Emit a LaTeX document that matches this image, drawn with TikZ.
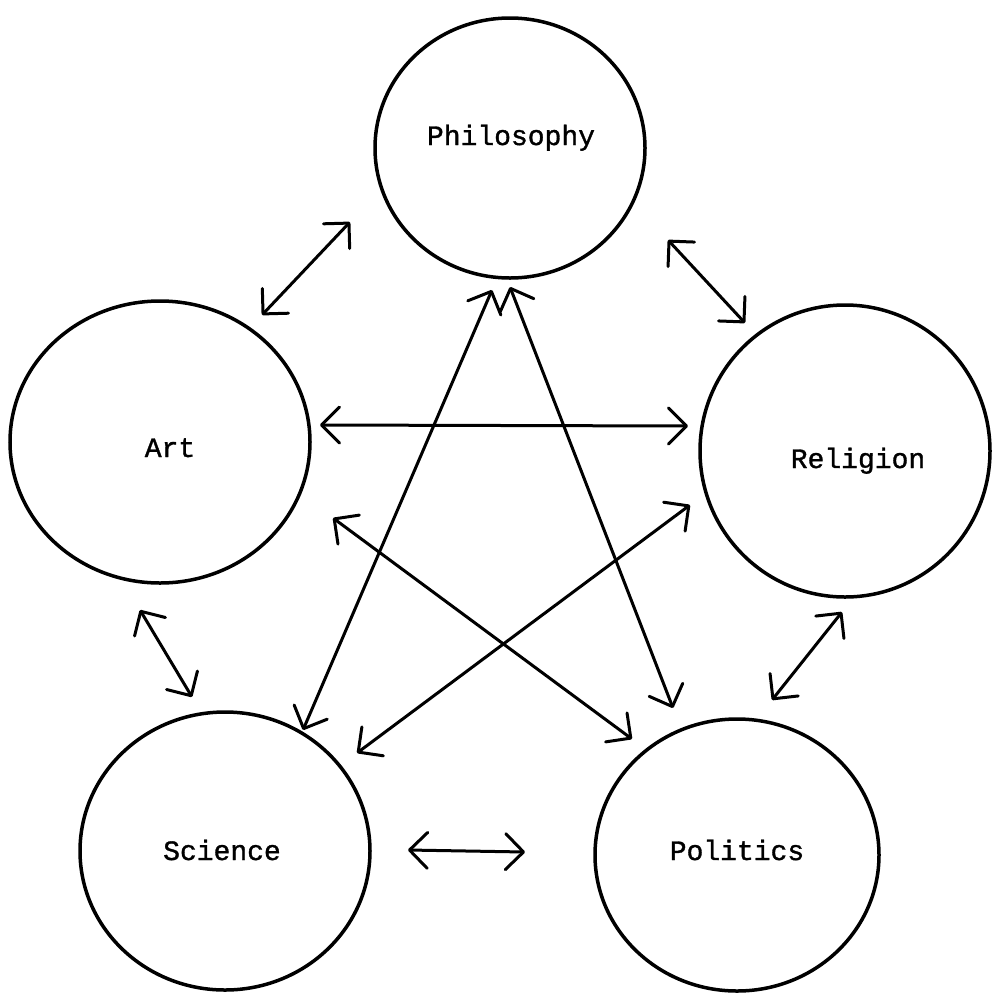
\documentclass[tikz,border=0pt]{standalone}
\usepackage{fontspec}
\newfontfamily\lblfont[FakeBold=1.2]{Liberation Mono}
\usetikzlibrary{arrows.meta,shapes.geometric}
\tikzset{
  topic/.style={draw=black, line width=3.5pt, ellipse, inner sep=0pt},
  lbl/.style={font=\lblfont\fontsize{28}{28}\selectfont, anchor=base, inner sep=0pt},
  link/.style={line width=3pt, line cap=round, {Straight Barb[length=18pt,width=36pt,line width=3pt,round]}-{Straight Barb[length=18pt,width=36pt,line width=3pt,round]}}
}
\begin{document}
\begin{tikzpicture}[x=1pt,y=-1pt]
\useasboundingbox[fill=white] (0,0) rectangle (996,994);
% circles
\node[topic, minimum width=270pt, minimum height=260pt] (phil) at (510,148) {};
\node[topic, minimum width=300pt, minimum height=282pt] (art) at (160,442) {};
\node[topic, minimum width=290pt, minimum height=292pt] (rel) at (845,451) {};
\node[topic, minimum width=290pt, minimum height=278pt] (sci) at (225,851) {};
\node[topic, minimum width=284pt, minimum height=272pt] (pol) at (737,855) {};
% labels
\node[lbl] (tphil) at (511,145) {Philosophy};
\node[lbl] (tart) at (170,457) {Art};
\node[lbl] (trel) at (858,468) {Religion};
\node[lbl] (tsci) at (222,860) {Science};
\node[lbl] (tpol) at (737,860) {Politics};
% arrow ends
\coordinate (ap1) at (262,315); \coordinate (ap2) at (350,222);
\coordinate (pr1) at (668,240); \coordinate (pr2) at (745,323);
\coordinate (ar1) at (320,425); \coordinate (ar2) at (688,426);
\coordinate (as1) at (140,610); \coordinate (as2) at (192,697);
\coordinate (rp1) at (842,612); \coordinate (rp2) at (772,700);
\coordinate (sp1) at (408,850); \coordinate (sp2) at (525,852);
\coordinate (ps1) at (492,290); \coordinate (ps2) at (303,730);
\coordinate (pp1) at (510,287); \coordinate (pp2) at (673,708);
\coordinate (apo1) at (333,518); \coordinate (apo2) at (632,739);
\coordinate (rs1) at (690,505); \coordinate (rs2) at (357,753);
\draw[link] (ap1) -- (ap2);
\draw[link] (pr1) -- (pr2);
\draw[link] (ar1) -- (ar2);
\draw[link] (as1) -- (as2);
\draw[link] (rp1) -- (rp2);
\draw[link] (sp1) -- (sp2);
\draw[link] (ps1) -- (ps2);
\draw[link] (pp1) -- (pp2);
\draw[link] (apo1) -- (apo2);
\draw[link] (rs1) -- (rs2);
\end{tikzpicture}
\end{document}
